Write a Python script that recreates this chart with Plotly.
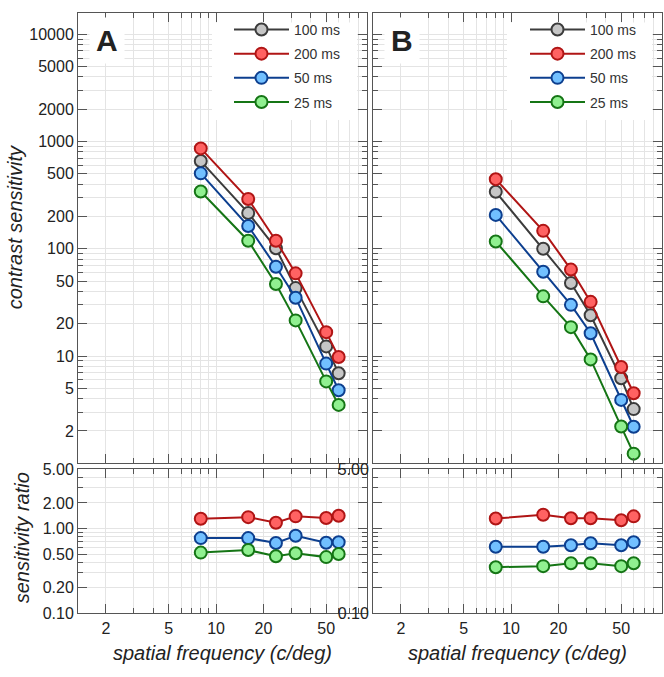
import plotly.graph_objects as go

# ---------------- data ----------------
freq = [8, 16, 24, 32, 50, 60]
series_names = ["100 ms", "200 ms", "50 ms", "25 ms"]

a_100 = [658, 216, 101, 43, 12.3, 6.9]
a_200 = [863, 291, 119, 59, 16.7, 9.8]
a_50 = [505, 163, 68, 35, 8.5, 4.8]
a_25 = [342, 119, 47, 21.5, 5.8, 3.5]

b_100 = [340, 100, 48, 24, 6.2, 3.2]
b_200 = [446, 147, 64, 32, 7.9, 4.5]
b_50 = [207, 61, 30, 16.3, 3.9, 2.19]
b_25 = [117, 36, 18.6, 9.3, 2.2, 1.23]

ratio_a_200 = [1.30, 1.36, 1.17, 1.39, 1.33, 1.41]
ratio_a_50 = [0.77, 0.77, 0.675, 0.82, 0.68, 0.69]
ratio_a_25 = [0.52, 0.557, 0.47, 0.51, 0.46, 0.50]
ratio_b_200 = [1.31, 1.45, 1.32, 1.32, 1.25, 1.39]
ratio_b_50 = [0.61, 0.61, 0.635, 0.67, 0.635, 0.69]
ratio_b_25 = [0.35, 0.36, 0.39, 0.39, 0.36, 0.39]

x_tickvals = [2, 5, 10, 20, 50]
x_ticktext = ["2", "5", "10", "20", "50"]
cs_tickvals = [2, 5, 10, 20, 50, 100, 200, 500, 1000, 2000, 5000, 10000]
cs_ticktext = ["2", "5", "10", "20", "50", "100", "200", "500", "1000", "2000", "5000", "10000"]
ratio_tickvals = [0.1, 0.2, 0.5, 1, 2, 5]
ratio_ticktext = ["0.10", "0.20", "0.50", "1.00", "2.00", "5.00"]

# ---------------- styles ----------------
styles = {
    "100 ms": dict(line="#3c3c3c", fill="#c6c6c6"),
    "200 ms": dict(line="#b01515", fill="#ff6262"),
    "50 ms": dict(line="#0d3f8f", fill="#72c0ff"),
    "25 ms": dict(line="#157515", fill="#90f090"),
}
FONT = "Liberation Sans, Arial, Helvetica, sans-serif"
W, H = 664, 677

fig = go.Figure()


def add(x, y, name, xa, ya, legend="legend", show=False, grp=""):
    st = styles[name]
    fig.add_trace(go.Scatter(
        x=x, y=y, name=name, mode="lines+markers",
        xaxis=xa, yaxis=ya,
        line=dict(color=st["line"], width=2),
        marker=dict(size=12, color=st["fill"], line=dict(color=st["line"], width=2)),
        showlegend=show, legend=legend, legendgroup=grp + name,
    ))


for name, vals in zip(series_names, [a_100, a_200, a_50, a_25]):
    add(freq, vals, name, "x", "y", "legend", True, "A")
for name, vals in zip(series_names, [b_100, b_200, b_50, b_25]):
    add(freq, vals, name, "x2", "y2", "legend2", True, "B")
for name, vals in zip(series_names[1:], [ratio_a_200, ratio_a_50, ratio_a_25]):
    add(freq, vals, name, "x3", "y3", grp="A")
for name, vals in zip(series_names[1:], [ratio_b_200, ratio_b_50, ratio_b_25]):
    add(freq, vals, name, "x4", "y4", grp="B")


def PX(x):
    return x / W


def PY(y):
    return 1 - y / H


GRID = "#e4e4e4"
AX = "#555555"


def axis(**kw):
    d = dict(type="log", showline=True, linecolor=AX, linewidth=1, mirror="allticks",
             ticks="inside", ticklen=9, tickcolor=AX, tickwidth=1,
             showgrid=True, gridcolor=GRID, gridwidth=1, zeroline=False,
             minor=dict(ticks="inside", ticklen=5, tickcolor=AX, showgrid=True,
                        gridcolor=GRID, dtick="D1"),
             tickfont=dict(family=FONT, size=16, color="#222"), tickmode="array")
    d.update(kw)
    return d


xr = [0.124, 1.958]
dom_a = [PX(78), PX(367)]
dom_b = [PX(373), PX(662)]
top_px, bot_px = 5, 467
dom_top = [PY(bot_px), PY(top_px)]
y_top_range = [0, 4.2]
dom_bot = [PY(621), PY(473)]

leg = dict(xanchor="left", yanchor="top", bgcolor="rgba(0,0,0,0)", borderwidth=0,
           font=dict(family=FONT, size=14, color="#333"), tracegroupgap=3, itemwidth=55,
           traceorder="grouped")

fig.update_layout(
    width=W, height=H, autosize=False,
    margin=dict(l=0, r=0, t=0, b=0),
    paper_bgcolor="white", plot_bgcolor="white",
    xaxis=axis(domain=dom_a, range=xr, anchor="y", tickvals=x_tickvals, ticktext=x_ticktext, showticklabels=False),
    yaxis=axis(domain=dom_top, range=y_top_range, anchor="x", tickvals=cs_tickvals, ticktext=cs_ticktext),
    xaxis2=axis(domain=dom_b, range=xr, anchor="y2", tickvals=x_tickvals, ticktext=x_ticktext, showticklabels=False),
    yaxis2=axis(domain=dom_top, range=y_top_range, anchor="x2", tickvals=cs_tickvals, ticktext=cs_ticktext, showticklabels=False),
    xaxis3=axis(domain=dom_a, range=xr, anchor="y3", tickvals=x_tickvals, ticktext=x_ticktext),
    yaxis3=axis(domain=dom_bot, range=[-1.0005, 0.6995], anchor="x3", tickvals=ratio_tickvals, ticktext=ratio_ticktext),
    xaxis4=axis(domain=dom_b, range=xr, anchor="y4", tickvals=x_tickvals, ticktext=x_ticktext),
    yaxis4=axis(domain=dom_bot, range=[-1.0005, 0.6995], anchor="x4", tickvals=ratio_tickvals,
                ticktext=["0.10", "", "", "", "", "5.00"]),
    legend=dict(x=PX(229), y=PY(6), **leg),
    legend2=dict(x=PX(525), y=PY(6), **leg),
)

# white boxes behind the legends (kept clear of the axis ticks)
pw = 289.0
ph = float(bot_px - top_px)
for xr_ref, yr_ref in [("x domain", "y domain"), ("x2 domain", "y2 domain")]:
    fig.add_shape(type="rect", xref=xr_ref, yref=yr_ref,
                  x0=1 - 155 / pw, x1=1 - 10 / pw, y0=1 - 110 / ph, y1=1 - 10 / ph,
                  fillcolor="white", line=dict(width=0), layer="above")

# panel letters
for txt, xpx in [("A", 107), ("B", 402)]:
    fig.add_annotation(text="<b>%s</b>" % txt, x=PX(xpx), y=PY(33), xref="paper", yref="paper",
                       showarrow=False, xanchor="center", yanchor="middle",
                       font=dict(family=FONT, size=30, color="#222"),
                       bgcolor="white", borderpad=6)

# axis titles
fig.add_annotation(text="<i>contrast sensitivity</i>", x=PX(15), y=PY(225), xref="paper", yref="paper",
                   showarrow=False, textangle=-90, xanchor="center", yanchor="middle",
                   font=dict(family=FONT, size=20, color="#222"))
fig.add_annotation(text="<i>sensitivity ratio</i>", x=PX(22), y=PY(544), xref="paper", yref="paper",
                   showarrow=False, textangle=-90, xanchor="center", yanchor="middle",
                   font=dict(family=FONT, size=20, color="#222"))
for cx in [(78 + 367) / 2, (373 + 662) / 2]:
    fig.add_annotation(text="<i>spatial frequency (c/deg)</i>", x=PX(cx), y=PY(662),
                       xref="paper", yref="paper", showarrow=False, xanchor="center", yanchor="middle",
                       font=dict(family=FONT, size=20, color="#222"))

# remove the default page margin so the 664x677 figure fills the window exactly
fig.write_html("out.html", config={"displayModeBar": False},
               post_script="document.body.style.margin='0';")
